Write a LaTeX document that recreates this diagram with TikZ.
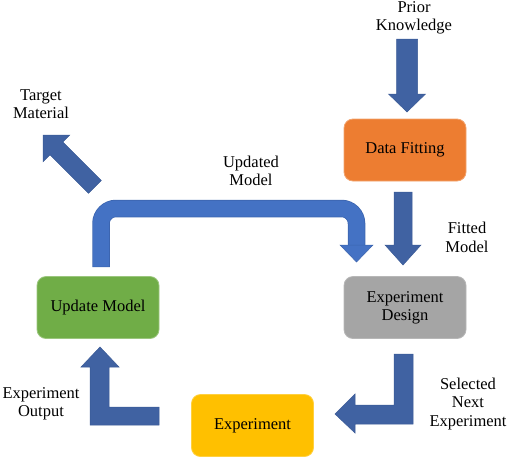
\documentclass[tikz,border=0pt]{standalone}
\usepackage{fontspec}
\setmainfont{Liberation Serif}
\definecolor{arrdark}{HTML}{4062A2}
\definecolor{arrdarkedge}{HTML}{3A5A96}
\definecolor{arrlight}{HTML}{4472C4}
\definecolor{arrlightedge}{HTML}{3B64AE}
\definecolor{orangebox}{HTML}{ED7D31}
\definecolor{greenbox}{HTML}{70AD47}
\definecolor{graybox}{HTML}{A5A5A5}
\definecolor{yellowbox}{HTML}{FFC000}
\tikzset{
  boxstyle/.style={rounded corners=9pt, minimum width=122pt, minimum height=62pt,
    align=center, inner sep=0pt, font=\fontsize{16.5}{19}\selectfont, line width=0.8pt},
  lbl/.style={align=center, inner sep=0pt, font=\fontsize{16.5}{18.5}\selectfont},
  blockarrow/.style={fill=arrdark, draw=arrdarkedge, line width=0.5pt, line join=miter},
}
\begin{document}
\begin{tikzpicture}[x=1pt,y=-1pt]
\useasboundingbox (0,0) rectangle (510,461);
% boxes
\node[boxstyle, fill=orangebox, draw=orangebox!70!white] (df) at (405,150) {Data Fitting};
\node[boxstyle, fill=greenbox, draw=greenbox!70!white] (um) at (98,307.5) {Update Model};
\node[boxstyle, fill=graybox, draw=graybox!80!white] (ed) at (405,307.5) {Experiment\\[-1pt]Design};
\node[boxstyle, fill=yellowbox, draw=yellowbox!75!white] (ex) at (252.5,425.5) {Experiment};
% labels
\node[lbl] (pk) at (414,18) {Prior\\Knowledge};
\node[lbl] (tm) at (41,104) {Target\\Material};
\node[lbl] (umod) at (251,171) {Updated\\Model};
\node[lbl] (fm) at (467,237.5) {Fitted\\Model};
\node[lbl] (sne) at (468,404) {Selected\\Next\\Experiment};
\node[lbl] (eo) at (41,404) {Experiment\\Output};
% Prior Knowledge -> Data Fitting
\draw[blockarrow] (396.5,39) -- (417.5,39) -- (417.5,94) -- (425.5,94) -- (407,112)
  -- (388.5,94) -- (396.5,94) -- cycle;
% Data Fitting -> Experiment Design
\draw[blockarrow] (394,192) -- (412,192) -- (412,245) -- (421,245) -- (403,265)
  -- (385,245) -- (394,245) -- cycle;
% Update Model -> Target Material
\draw[blockarrow] (43,135) -- (69.8,135) -- (62.8,142) -- (101.3,180.5) -- (88.5,193.3)
  -- (50,154.8) -- (43,161.8) -- cycle;
% Experiment Design -> Experiment
\draw[blockarrow] (394,354) -- (413,354) -- (413,424) -- (355,424) -- (355,433)
  -- (335,414) -- (355,394) -- (355,405) -- (394,405) -- cycle;
% Experiment -> Update Model
\draw[blockarrow] (159,407) -- (159,425) -- (90,425) -- (90,367) -- (81,367)
  -- (100,347) -- (119,367) -- (109,367) -- (109,407) -- cycle;
% Update Model -> Experiment Design (bent)
\coordinate (ba1) at (101,267);
\coordinate (ba2) at (101,208.5);
\coordinate (ba3) at (356.5,208.5);
\coordinate (ba4) at (356.5,245.5);
\draw[arrlightedge, line width=17.5pt, rounded corners=15pt] (ba1) -- (ba2) -- (ba3) -- (ba4);
\draw[arrlight, line width=16pt, rounded corners=15pt] ([yshift=0.5pt]ba1) -- (ba2) -- (ba3) -- ([yshift=0.5pt]ba4);
\fill[arrlight, draw=arrlightedge, line width=0.5pt] (340,245) -- (373,245) -- (356.5,262) -- cycle;
\end{tikzpicture}
\end{document}
